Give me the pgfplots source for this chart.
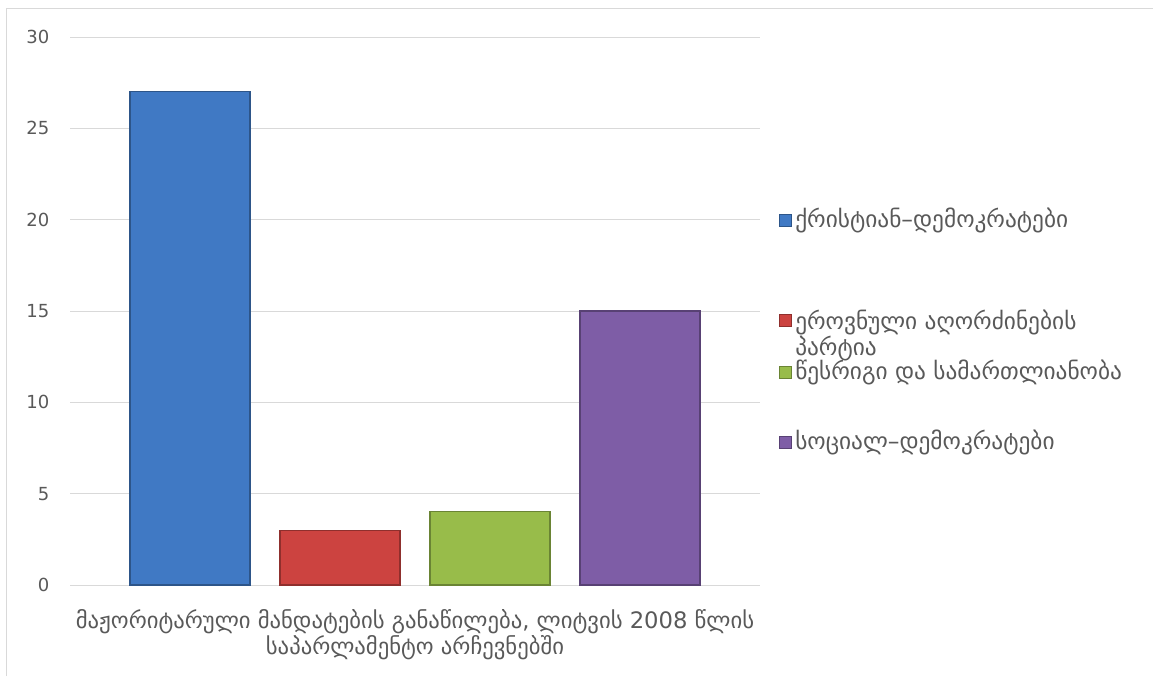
\documentclass[border=0pt]{standalone}
\usepackage{fontspec}
\setmainfont{DejaVu Sans}
\usepackage{pgfplots}
\pgfplotsset{compat=1.18}
\definecolor{txt}{HTML}{595959}
\definecolor{gridc}{HTML}{D9D9D9}
\definecolor{cblue}{HTML}{4079C4}
\definecolor{cred}{HTML}{CC4340}
\definecolor{cgreen}{HTML}{98BC4A}
\definecolor{cpurple}{HTML}{7E5DA6}
\begin{document}
\begin{tikzpicture}
\path[use as bounding box] (0,0) rectangle (864.75pt,-507pt);
\draw[gridc, line width=0.75pt] (4.5pt,-507pt) -- (4.5pt,-6pt) -- (864.75pt,-6pt);
\begin{axis}[
  at={(52.5pt,-27.75pt)}, anchor=north west,
  scale only axis, width=517.5pt, height=411pt,
  xmin=-0.8, xmax=3.8, ymin=0, ymax=30,
  ytick={0,5,...,30}, xtick=\empty,
  ymajorgrids, grid style={gridc, line width=0.75pt},
  axis x line*=bottom, axis y line*=left,
  y axis line style={draw=none},
  x axis line style={gridc, line width=0.75pt, -},
  major tick length=0pt,
  tick label style={font=\fontsize{13.5}{16}\selectfont, text=txt},
  /pgf/number format/assume math mode=true,
  yticklabel style={xshift=-12pt},
  xlabel={მაჟორიტარული მანდატების განაწილება, ლიტვის 2008 წლის\\საპარლამენტო არჩევნებში},
  xlabel style={align=center, font=\fontsize{17}{19}\selectfont, text=txt, yshift=-15pt},
  ybar, bar width=0.8, bar shift=0pt,
]
\addplot[fill=cblue, draw=cblue!70!black, line width=0.8pt] coordinates {(0,27)};
\addplot[fill=cred, draw=cred!70!black, line width=0.8pt] coordinates {(1,3)};
\addplot[fill=cgreen, draw=cgreen!70!black, line width=0.8pt] coordinates {(2,4)};
\addplot[fill=cpurple, draw=cpurple!70!black, line width=0.8pt] coordinates {(3,15)};
\end{axis}
\begin{scope}[every node/.style={anchor=west, text=txt, font=\fontsize{17.5}{19.5}\selectfont, inner sep=0pt}]
\fill[cblue, draw=cblue!70!black] (584.25pt,-160.5pt) rectangle ++(9pt,-9pt);
\node at (596.25pt,-165pt) {ქრისტიან–დემოკრატები};
\fill[cred, draw=cred!70!black] (584.25pt,-235.5pt) rectangle ++(9pt,-9pt);
\node[align=left, anchor=north west] at (596.25pt,-232pt) {ეროვნული აღორძინების\\პარტია};
\fill[cgreen, draw=cgreen!70!black] (584.25pt,-274.5pt) rectangle ++(9pt,-9pt);
\node at (596.25pt,-279pt) {წესრიგი და სამართლიანობა};
\fill[cpurple, draw=cpurple!70!black] (584.25pt,-327pt) rectangle ++(9pt,-9pt);
\node at (596.25pt,-331.5pt) {სოციალ–დემოკრატები};
\end{scope}
\end{tikzpicture}
\end{document}
